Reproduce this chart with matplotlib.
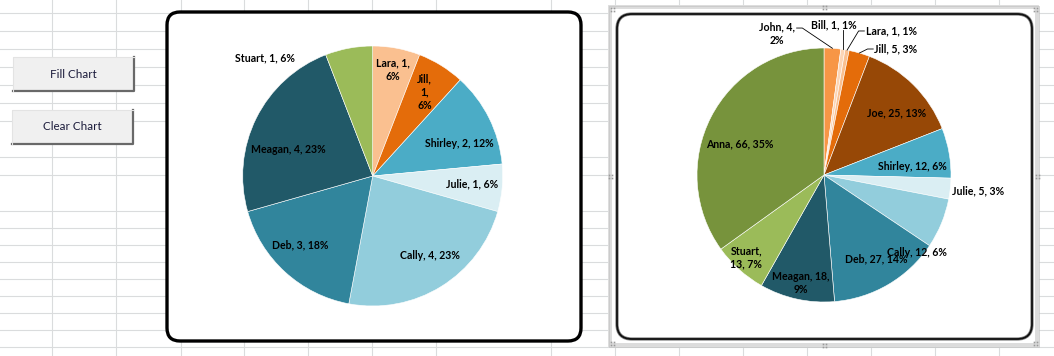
import numpy as np
import matplotlib
matplotlib.use("Agg")
import matplotlib.pyplot as plt
from matplotlib.patches import FancyBboxPatch, Rectangle

# ---------------- data ----------------
left_names = ["Lara", "Jill", "Shirley", "Julie", "Cally", "Deb", "Meagan", "Stuart"]
left_values = [1, 1, 2, 1, 4, 3, 4, 1]
left_pcts = ["6%", "6%", "12%", "6%", "23%", "18%", "23%", "6%"]

right_names = ["John", "Bill", "Lara", "Jill", "Joe", "Shirley", "Julie", "Cally",
               "Deb", "Meagan", "Stuart", "Anna"]
right_values = [4, 1, 1, 5, 25, 12, 5, 12, 27, 18, 13, 66]
right_pcts = ["2%", "1%", "1%", "3%", "13%", "6%", "3%", "6%", "14%", "9%", "7%", "35%"]

button_labels = ["Fill Chart", "Clear Chart"]

# ---------------- styles ----------------
left_colors = ["#FAC090", "#E46C0A", "#4BACC6", "#DAEEF3", "#92CDDC", "#31859C",
               "#215968", "#9BBB59"]
right_colors = ["#F79646", "#FCD5B5", "#FAC090", "#E46C0A", "#974806", "#4BACC6",
                "#DAEEF3", "#92CDDC", "#31859C", "#215968", "#9BBB59", "#77933C"]

# label line breaks (how Excel wrapped the text)
left_fmt = ["{n}, {v},\n{p}", "{n},\n{v},\n{p}", "{n}, {v}, {p}", "{n}, {v}, {p}",
            "{n}, {v}, {p}", "{n}, {v}, {p}", "{n}, {v}, {p}", "{n}, {v}, {p}"]
right_fmt = ["{n}, {v},\n{p}", "{n}, {v}, {p}", "{n}, {v}, {p}", "{n}, {v}, {p}",
             "{n}, {v}, {p}", "{n}, {v}, {p}", "{n}, {v}, {p}", "{n}, {v}, {p}",
             "{n}, {v}, {p}", "{n}, {v},\n{p}", "{n},\n{v}, {p}", "{n}, {v}, {p}"]
# label placement: radius factor, angle offset (deg, clockwise) from wedge middle, ha
left_lab_r = [0.83, 0.76, 0.71, 0.77, 0.75, 0.77, 0.68, 1.23]
left_lab_da = [0, 0, 6, -1, -4, 4, -9, -31.7]
left_lab_ha = ["center"] * 8
right_lab_r = [1.178, 1.18, 1.179, 1.067, 0.75, 0.70, 1.013, 0.95, 0.78, 0.87, 0.89, 0.71]
right_lab_da = [-14.6, -5, 5.4, 5.4, 4.6, 4.2, 0.8, 17.6, -1.2, -0.3, 1.5, -6.6]
right_lab_ha = ["right", "center", "left", "left", "center", "center", "left", "center",
                "center", "center", "center", "center"]
right_leader = [True, True, True, True] + [False] * 8

FONT = "Lato"
FS = 7.6

W, H = 1054, 356
fig = plt.figure(figsize=(W / 100, H / 100), dpi=100)
fig.patch.set_facecolor("white")

# ---------------- worksheet background ----------------
bg = fig.add_axes([0, 0, 1, 1])
bg.set_xlim(0, W)
bg.set_ylim(H, 0)
bg.axis("off")
col_lines = [52, 116, 181, 244, 308, 372, 436, 551, 615, 679, 743, 807, 871, 935, 999]
row_lines = [13, 31, 49, 67, 85, 103, 121, 157, 175, 211, 228, 245, 262, 279, 296, 313, 330, 347]
for x in col_lines:
    bg.plot([x, x], [0, H], color="#DADCDD", lw=0.8, zorder=0)
for y in row_lines:
    bg.plot([0, W], [y, y], color="#DADCDD", lw=0.8, zorder=0)

# buttons
btn_boxes = [(13, 57, 121, 34), (12, 110, 121, 34)]
for (bx, by, bw, bh), lab in zip(btn_boxes, button_labels):
    bg.add_patch(Rectangle((bx, by), bw, bh, facecolor="#F0F0F0", edgecolor="none", zorder=2))
    bg.plot([bx, bx + bw, bx + bw], [by + bh, by + bh, by], color="#696969", lw=1.6, zorder=3)
    bg.plot([bx, bx, bx + bw], [by + bh, by, by], color="#E3E3E3", lw=0.8, zorder=3)
    bg.text(bx + bw / 2, by + bh / 2, lab, ha="center", va="center", fontsize=8.4,
            family=FONT, color="#1A1A3A", zorder=4)

# left chart frame
bg.add_patch(FancyBboxPatch((167, 12), 414, 329, boxstyle="round,pad=0,rounding_size=13",
                            facecolor="white", edgecolor="black", lw=2.4, zorder=2))
# right chart selection frame + frame
bg.add_patch(Rectangle((610, 7), 427, 338, facecolor="white", edgecolor="#DCDCDC",
                       lw=2.8, zorder=2))
bg.add_patch(Rectangle((608.5, 5.5), 430, 341, facecolor="none", edgecolor="#C4C4C4",
                       lw=0.5, zorder=2))
bg.add_patch(FancyBboxPatch((617, 14), 415, 325, boxstyle="round,pad=0,rounding_size=15",
                            facecolor="white", edgecolor="#8A8A8A", lw=2.4, zorder=3))
bg.add_patch(FancyBboxPatch((617, 14), 415, 325, boxstyle="round,pad=0,rounding_size=15",
                            facecolor="none", edgecolor="#111111", lw=1.3, zorder=3))
# selection handles (small dot groups)
for hx, hy in [(612, 9), (1035, 9), (612, 343), (1035, 343), (824, 7), (824, 345),
               (610, 176), (1037, 176)]:
    bg.plot([hx - 1.5, hx + 1.5, hx - 1.5, hx + 1.5], [hy - 1.5, hy - 1.5, hy + 1.5, hy + 1.5],
            ls="none", marker="s", ms=1.2, mew=0, color="#9A9A9A", zorder=4)


def pie_axes(cx, cy, r):
    ax = fig.add_axes([(cx - r) / W, (H - cy - r) / H, 2 * r / W, 2 * r / H])
    ax.set_zorder(5)
    ax.patch.set_alpha(0)
    return ax


def draw_pie(ax, values, colors, names, pcts, fmts, lab_r, lab_da, lab_ha, leaders=None):
    ax.pie(values, colors=colors, startangle=90, counterclock=False, radius=1,
           wedgeprops=dict(edgecolor="white", linewidth=0.4))
    ax.set_xlim(-1, 1)
    ax.set_ylim(-1, 1)
    ax.set_aspect("equal")
    ax.axis("off")
    total = float(sum(values))
    cum = np.cumsum([0] + list(values))
    for i, v in enumerate(values):
        mid = (cum[i] + v / 2) / total * 360.0
        a = np.radians(mid + lab_da[i])
        tx, ty = lab_r[i] * np.sin(a), lab_r[i] * np.cos(a)
        txt = fmts[i].format(n=names[i], v=v, p=pcts[i])
        va = "center"
        if leaders is not None and leaders[i]:
            m = np.radians(mid)
            ex, ey = np.sin(m), np.cos(m)
            if lab_ha[i] == "center":
                ax.plot([ex, ex], [ey, ty - 0.035], color="black", lw=0.6, clip_on=False)
                va = "bottom"
                ty = ty - 0.035
            else:
                sgn = 1 if lab_ha[i] == "left" else -1
                ax.plot([ex, tx - sgn * 0.05, tx - sgn * 0.005], [ey, ty, ty],
                        color="black", lw=0.6, clip_on=False)
                tx = tx + sgn * 0.005
                if "\n" in txt:
                    va = "top"
                    ty = ty + 0.05
        ax.text(tx, ty, txt, ha=lab_ha[i], va=va, multialignment="center",
                fontsize=FS, fontweight="bold", family=FONT, color="black",
                linespacing=1.25, clip_on=False)


axL = pie_axes(372.7, 176, 130)
draw_pie(axL, left_values, left_colors, left_names, left_pcts, left_fmt,
         left_lab_r, left_lab_da, left_lab_ha)
axR = pie_axes(824, 175, 127)
draw_pie(axR, right_values, right_colors, right_names, right_pcts, right_fmt,
         right_lab_r, right_lab_da, right_lab_ha, right_leader)

fig.savefig("out.png", dpi=100)
